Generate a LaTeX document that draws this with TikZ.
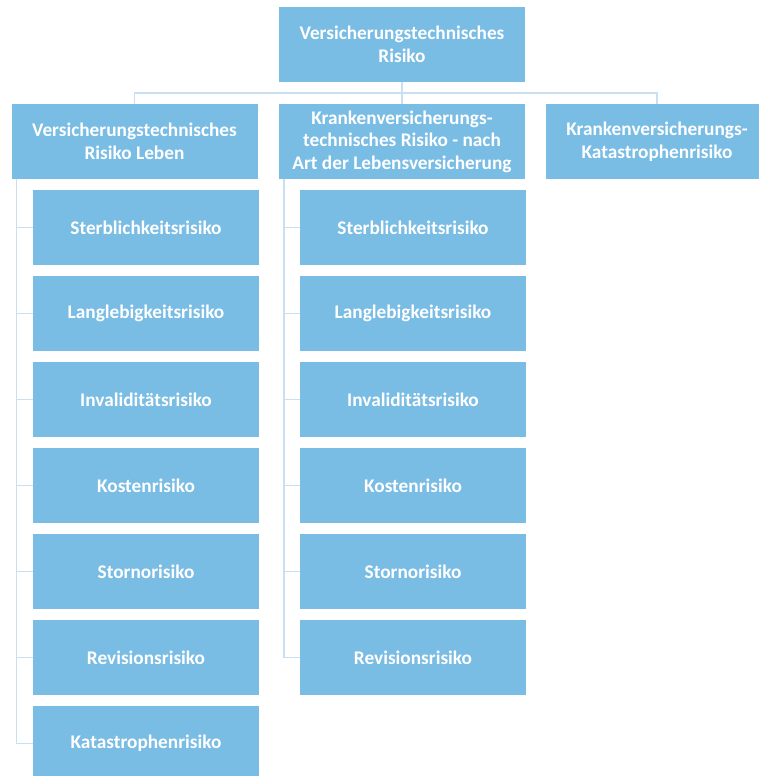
\documentclass[tikz,border=0pt]{standalone}
\usepackage{fontspec}
\setmainfont{Carlito}
\definecolor{boxblue}{RGB}{121,188,228}
\definecolor{linkblue}{RGB}{200,224,242}

\begin{document}
\begin{tikzpicture}[x=1pt,y=-1pt,
  riskbox/.style={fill=boxblue,text=white,font=\fontsize{19.3}{22.5}\selectfont\bfseries,
    align=center,inner sep=0pt,minimum height=75pt},
  headbox/.style={riskbox,minimum width=246pt},
  subbox/.style={riskbox,minimum width=226pt},
  link/.style={draw=linkblue,line width=1.4pt}]
  \useasboundingbox (0,0) rectangle (758,776);

  \node[headbox] (top) at (402,44.5) {Versicherungstechnisches\\Risiko};

  \node[headbox] (leben) at (134.5,141.5) {Versicherungstechnisches\\Risiko Leben};
  \node[headbox] (kv) at (402,141.5) {Krankenversicherungs-\\technisches Risiko - nach\\Art der Lebensversicherung};
  \node[headbox,minimum width=222pt] (kat) at (657,141.5) {Krankenversicherungs-\\Katastrophenrisiko};

  % bus below the top box
  \coordinate (bus) at (402,93);
  \draw[link] (top.south) -- (bus);
  \draw[link] (bus) -| (leben.north);
  \draw[link] (bus) -- (kv.north);
  \draw[link] (bus) -| (kat.north);

  % children left
  \foreach \name [count=\i] in {Sterblichkeitsrisiko,Langlebigkeitsrisiko,Invaliditätsrisiko,Kostenrisiko,Stornorisiko,Revisionsrisiko,Katastrophenrisiko}{
    \node[subbox] (l\i) at (146,227.5+86*\i-86) {\name};
    \draw[link] ([xshift=5pt]leben.south west) |- (l\i.west);
  }

  % children middle
  \foreach \name [count=\i] in {Sterblichkeitsrisiko,Langlebigkeitsrisiko,Invaliditätsrisiko,Kostenrisiko,Stornorisiko,Revisionsrisiko}{
    \node[subbox] (m\i) at (413,227.5+86*\i-86) {\name};
    \draw[link] ([xshift=5pt]kv.south west) |- (m\i.west);
  }
\end{tikzpicture}
\end{document}
